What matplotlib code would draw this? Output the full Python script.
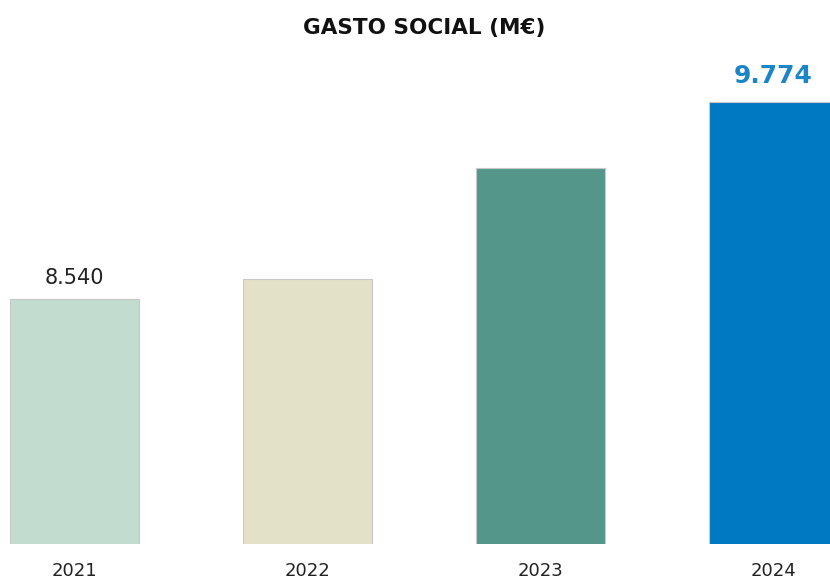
import matplotlib.pyplot as plt
import numpy as np

years = ['2021', '2022', '2023', '2024']
gasto = [8540, 8664, 9360, 9774]
colores = ['#c2ddd0', '#e3e1c8', '#54978a', '#0079c2']

fig = plt.figure(figsize=(8.30, 5.79), dpi=100)
ax = fig.add_axes([0, 35/579, 1, 544/579])
x = np.arange(len(years))
ax.bar(x, gasto, width=0.554, color=colores, edgecolor='#c8c8c8', linewidth=0.8)
ax.set_xlim(-74.5/233, (830-74.5)/233)
ax.set_ylim(7000, 10415)
for s in ax.spines.values():
    s.set_visible(False)
ax.set_yticks([])
ax.set_xticks(x)
ax.set_xticklabels(years, fontsize=13, color='#222222')
ax.tick_params(axis='x', length=0, pad=13)

ax.text(x[0], gasto[0] + 70, '8.540', ha='center', va='bottom', fontsize=15, color='#222222')
ax.text(x[3], gasto[3] + 90, '9.774', ha='center', va='bottom', fontsize=18,
        fontweight='bold', color='#1a86c8')
fig.text(424/830, 1 - 28/579, 'GASTO SOCIAL (M€)', ha='center', va='center', fontsize=15.5,
         fontweight='bold', color='#111111')

plt.savefig('out.png', dpi=100)
